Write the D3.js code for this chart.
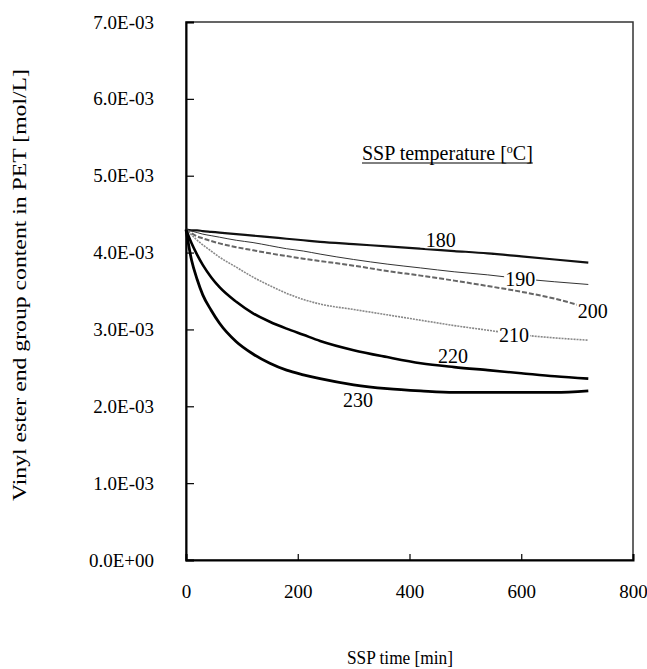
<!DOCTYPE html>
<html>
<head>
<meta charset="utf-8">
<script src="https://cdn.jsdelivr.net/npm/d3@7"></script>
<style>
  html, body { margin: 0; padding: 0; background: #fff; }
  svg { display: block; }
</style>
</head>
<body>
<svg id="chart" width="647" height="669"></svg>
<script>
const FONT = "'Liberation Serif', 'Times New Roman', Times, 'DejaVu Serif', serif";

// SSP time in minutes
const times = [0, 10, 20, 30, 45, 60, 90, 120, 150, 180, 210, 240, 300, 360, 420, 480, 540, 600, 660, 720];

// Vinyl ester end group content [mol/L] at each SSP temperature
const conc180 = [4.30e-3, 4.29e-3, 4.29e-3, 4.28e-3, 4.27e-3, 4.26e-3, 4.24e-3, 4.22e-3, 4.20e-3, 4.18e-3, 4.16e-3, 4.14e-3, 4.11e-3, 4.08e-3, 4.05e-3, 4.02e-3, 3.99e-3, 3.95e-3, 3.91e-3, 3.87e-3];
const conc190 = [4.30e-3, 4.28e-3, 4.26e-3, 4.24e-3, 4.22e-3, 4.20e-3, 4.16e-3, 4.13e-3, 4.09e-3, 4.05e-3, 4.02e-3, 3.98e-3, 3.91e-3, 3.85e-3, 3.80e-3, 3.75e-3, 3.71e-3, 3.66e-3, 3.62e-3, 3.585e-3];
const conc200 = [4.30e-3, 4.25e-3, 4.21e-3, 4.185e-3, 4.15e-3, 4.12e-3, 4.07e-3, 4.03e-3, 3.99e-3, 3.955e-3, 3.92e-3, 3.89e-3, 3.83e-3, 3.76e-3, 3.70e-3, 3.635e-3, 3.565e-3, 3.49e-3, 3.40e-3, 3.28e-3];
const conc210 = [4.30e-3, 4.23e-3, 4.16e-3, 4.10e-3, 4.02e-3, 3.94e-3, 3.81e-3, 3.68e-3, 3.57e-3, 3.47e-3, 3.39e-3, 3.33e-3, 3.26e-3, 3.19e-3, 3.12e-3, 3.05e-3, 2.99e-3, 2.93e-3, 2.89e-3, 2.86e-3];
const conc220 = [4.30e-3, 4.12e-3, 3.97e-3, 3.84e-3, 3.68e-3, 3.55e-3, 3.36e-3, 3.21e-3, 3.10e-3, 3.01e-3, 2.93e-3, 2.85e-3, 2.73e-3, 2.64e-3, 2.56e-3, 2.51e-3, 2.47e-3, 2.43e-3, 2.39e-3, 2.36e-3];
const conc230 = [4.30e-3, 3.90e-3, 3.65e-3, 3.45e-3, 3.25e-3, 3.08e-3, 2.84e-3, 2.68e-3, 2.56e-3, 2.47e-3, 2.41e-3, 2.36e-3, 2.28e-3, 2.23e-3, 2.20e-3, 2.18e-3, 2.18e-3, 2.18e-3, 2.18e-3, 2.20e-3];

const temperatures = [180, 190, 200, 210, 220, 230];

// Curve label anchors (time [min], content [mol/L])
const labelTimes = [456, 598, 728, 587, 478, 308];
const labelConcs = [4.16e-3, 3.656e-3, 3.24e-3, 2.93e-3, 2.654e-3, 2.088e-3];

// Axis ticks
const xTicks = [0, 200, 400, 600, 800];
const yTicks = [0, 1e-3, 2e-3, 3e-3, 4e-3, 5e-3, 6e-3, 7e-3];
const yTickLabels = ["0.0E+00", "1.0E-03", "2.0E-03", "3.0E-03", "4.0E-03", "5.0E-03", "6.0E-03", "7.0E-03"];

const svg = d3.select("#chart");
const plot = { left: 186, right: 633, top: 22, bottom: 560 };

const x = d3.scaleLinear().domain([0, 800]).range([plot.left, plot.right]);
const y = d3.scaleLinear().domain([0, 7e-3]).range([plot.bottom, plot.top]);

const seriesValues = [conc180, conc190, conc200, conc210, conc220, conc230];
const series = temperatures.map((temp, i) => ({
  temp,
  points: times.map((t, j) => ({ t, v: seriesValues[i][j] }))
}));

// Line styles per temperature
const styles = {
  180: { stroke: "#111", width: 2.2, dash: null },
  190: { stroke: "#333", width: 1.0, dash: null },
  200: { stroke: "#666", width: 2.0, dash: "5,2" },
  210: { stroke: "#888", width: 1.6, dash: "2,1" },
  220: { stroke: "#000", width: 2.6, dash: null },
  230: { stroke: "#000", width: 2.8, dash: null }
};

// Frame
svg.append("rect")
  .attr("x", plot.left).attr("y", plot.top)
  .attr("width", plot.right - plot.left).attr("height", plot.bottom - plot.top)
  .attr("fill", "none").attr("stroke", "#333").attr("stroke-width", 1.5);

// Y axis: ticks point into the plot
const yAxis = d3.axisLeft(y).tickValues(yTicks)
  .tickSize(-8)
  .tickFormat((d, i) => yTickLabels[i]);
const gy = svg.append("g").attr("transform", `translate(${plot.left},0)`).call(yAxis);
gy.attr("font-family", FONT).attr("font-size", 19);
gy.select(".domain").attr("stroke", "#000").attr("stroke-width", 2);
gy.selectAll(".tick line").attr("stroke", "#000").attr("stroke-width", 1.2);
gy.selectAll(".tick text")
  .attr("x", -32).attr("text-anchor", "end").attr("fill", "#000");

// X axis: ticks point up into the plot
const xAxis = d3.axisBottom(x).tickValues(xTicks)
  .tickSize(-6).tickFormat(d3.format("d"));
const gx = svg.append("g").attr("transform", `translate(0,${plot.bottom})`).call(xAxis);
gx.attr("font-family", FONT).attr("font-size", 19);
gx.select(".domain").attr("stroke", "#000").attr("stroke-width", 2);
gx.selectAll(".tick line").attr("stroke", "#000").attr("stroke-width", 1.2);
gx.selectAll(".tick text")
  .attr("y", 25).attr("dy", "0.71em").attr("fill", "#000");

// Curves
const line = d3.line()
  .x(d => x(d.t)).y(d => y(d.v))
  .curve(d3.curveMonotoneX);

svg.append("g").selectAll("path")
  .data(series)
  .join("path")
  .attr("d", d => line(d.points))
  .attr("fill", "none")
  .attr("stroke", d => styles[d.temp].stroke)
  .attr("stroke-width", d => styles[d.temp].width)
  .attr("stroke-dasharray", d => styles[d.temp].dash)
  .attr("stroke-linejoin", "round");

// Curve labels
const labels = temperatures.map((temp, i) => ({ temp, t: labelTimes[i], v: labelConcs[i] }));
const lg = svg.append("g").attr("font-family", FONT);
labels.forEach(l => {
  const g = lg.append("g").attr("transform", `translate(${x(l.t)},${y(l.v)})`);
  const txt = g.append("text")
    .attr("text-anchor", "middle").attr("dy", "0.35em")
    .attr("font-size", 20)
    .text(l.temp);
  const bb = txt.node().getBBox();
  g.insert("rect", "text")
    .attr("x", bb.x - 1).attr("y", bb.y + 3)
    .attr("width", bb.width + 2).attr("height", bb.height - 6)
    .attr("fill", "#fff");
});

// Legend title with superscript degree mark, underlined
const legendX = 362, legendY = 160;
const lt = svg.append("text")
  .attr("x", legendX).attr("y", legendY)
  .attr("font-family", FONT).attr("font-size", 20);
lt.append("tspan").text("SSP temperature [");
lt.append("tspan").attr("dy", -7).attr("font-size", 12).text("o");
lt.append("tspan").attr("dy", 7).text("C]");
const ltw = lt.node().getComputedTextLength();
svg.append("line")
  .attr("x1", legendX).attr("x2", legendX + ltw)
  .attr("y1", legendY + 3).attr("y2", legendY + 3)
  .attr("stroke", "#000").attr("stroke-width", 1);

// Axis titles
svg.append("text")
  .attr("x", 400).attr("y", 664)
  .attr("text-anchor", "middle")
  .attr("font-family", FONT).attr("font-size", 19)
  .attr("textLength", 106).attr("lengthAdjust", "spacingAndGlyphs")
  .text("SSP time [min]");

svg.append("text")
  .attr("transform", `translate(26,285) rotate(-90)`)
  .attr("text-anchor", "middle")
  .attr("font-family", FONT).attr("font-size", 19)
  .attr("textLength", 432).attr("lengthAdjust", "spacingAndGlyphs")
  .text("Vinyl ester end group content in PET [mol/L]");
</script>
</body>
</html>
